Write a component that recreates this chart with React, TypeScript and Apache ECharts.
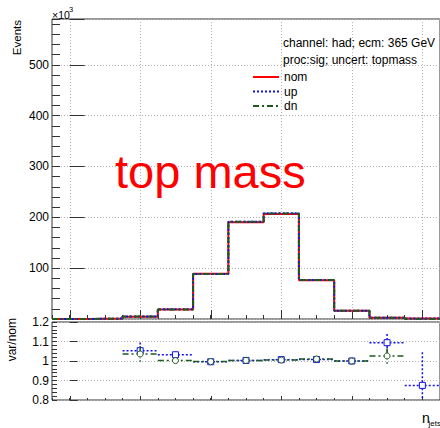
import React, { useEffect, useRef } from "react";
import * as echarts from "echarts";

// ---- data ----
const binCenters = [0, 1, 2, 3, 4, 5, 6, 7, 8, 9, 10]; // n_jets
const nomValues = [0, 0.8, 4.5, 18.5, 89, 190.5, 206.5, 76, 16, 2.5, 1]; // x10^3 events
const upValues = [0, 0.8, 4.7, 19.1, 88.6, 191.1, 208, 76.6, 16, 2.7, 0.9];
const dnValues = [0, 0.8, 4.7, 18.5, 88.7, 191.1, 207.5, 76.8, 16, 2.6, 0];
const upRatio = [null, null, 1.053, 1.032, 0.996, 1.003, 1.007, 1.008, 1.0, 1.094, 0.875];
const upRatioErr = [null, null, 0.042, 0.015, 0.006, 0.004, 0.004, 0.006, 0.012, 0.045, 0.17];
const dnRatio = [null, null, 1.036, 1.002, 0.997, 1.003, 1.005, 1.01, 1.0, 1.026, null];
const dnRatioErr = [null, null, 0.04, 0.012, 0.006, 0.004, 0.004, 0.006, 0.012, 0.04, null];
const seriesNames = ["nom", "up", "dn"];
const headerLines = ["channel: had; ecm: 365 GeV", "proc:sig; uncert: topmass"];
const bigLabel = "top mass";
const yTitle = "Events";
const ratioTitle = "var/nom";
const xTitleMain = "n";
const xTitleSub = "jets";
const eventsMax = 590;
const ratioMin = 0.8;
const ratioMax = 1.2;

const FONT = '"Liberation Sans", Arial, Helvetica, sans-serif';
const AX = "#333333";
const GRIDC = "#b4b4b4";
const RED = "#ff0000";
const BLUE = "#1010f0";
const GREEN = "#1e5a1e";

const W = 440;
const H = 428;
const LEFT = 52;
const PLOT_W = 392;
const UNIT = PLOT_W / 11;

function histData(vals: number[]) {
  const d: number[][] = vals.map((v, i) => [binCenters[i] - 0.5, v]);
  d.push([binCenters[binCenters.length - 1] + 0.5, vals[vals.length - 1]]);
  return d;
}

function ratioData(r: (number | null)[], e: (number | null)[]) {
  const d: number[][] = [];
  r.forEach((v, i) => {
    if (v !== null && e[i] !== null) d.push([binCenters[i], v, e[i] as number]);
  });
  return d;
}

function makeRender(color: string, dash: number[], marker: "rect" | "circle") {
  return (params: any, api: any) => {
    const x = api.value(0);
    const y = api.value(1);
    const e = api.value(2);
    const cs = params.coordSys;
    const clampY = (v: number) => Math.min(Math.max(v, cs.y), cs.y + cs.height);
    const c = api.coord([x, y]);
    const l = api.coord([x - 0.5, y]);
    const r = api.coord([x + 0.5, y]);
    const t = api.coord([x, y + e]);
    const b = api.coord([x, y - e]);
    const inside = c[1] >= cs.y && c[1] <= cs.y + cs.height;
    const children: any[] = [];
    const ls = { stroke: color, lineWidth: 1.5, lineDash: dash, fill: null };
    if (inside) {
      children.push({ type: "line", shape: { x1: l[0], y1: c[1], x2: r[0], y2: c[1] }, style: ls });
    }
    const ty = clampY(t[1]);
    const by = clampY(b[1]);
    if (by - ty > 0.5) {
      children.push({ type: "line", shape: { x1: c[0], y1: ty, x2: c[0], y2: by }, style: ls });
    }
    if (inside) {
      if (marker === "rect") {
        children.push({
          type: "rect",
          shape: { x: c[0] - 3, y: c[1] - 3, width: 6, height: 6 },
          style: { fill: "#ffffff", stroke: color, lineWidth: 1 },
        });
      } else {
        children.push({
          type: "circle",
          shape: { cx: c[0], cy: c[1], r: 3 },
          style: { fill: "#ffffff", stroke: color, lineWidth: 1 },
        });
      }
    }
    return { type: "group", children };
  };
}

export default function App() {
  const ref = useRef<HTMLDivElement>(null);
  useEffect(() => {
    if (!ref.current) return;
    const chart = echarts.init(ref.current, null, { renderer: "svg" });
    const hidden = { show: false };
    const option: any = {
      animation: false,
      backgroundColor: "#ffffff",
      textStyle: { fontFamily: FONT },
      title: {
        text: headerLines.join("\n"),
        left: 283,
        top: 35,
        padding: 0,
        textStyle: { fontSize: 12, fontWeight: "normal", color: "#000", lineHeight: 16.5, fontFamily: FONT },
      },
      legend: {
        data: seriesNames,
        orient: "vertical",
        left: 252,
        top: 71,
        padding: 0,
        itemWidth: 26,
        itemHeight: 14,
        itemGap: 2.5,
        itemStyle: { opacity: 0 },
        textStyle: { fontSize: 12, color: "#000", fontFamily: FONT },
      },
      grid: [
        { left: LEFT, top: 19, width: PLOT_W, height: 300, show: true, borderColor: AX, borderWidth: 1, backgroundColor: "transparent" },
        { left: LEFT, top: 322, width: PLOT_W, height: 78, show: true, borderColor: AX, borderWidth: 1, backgroundColor: "transparent" },
        { left: LEFT + UNIT / 2, top: 19, width: PLOT_W - UNIT / 2, height: 300 },
        { left: LEFT + UNIT / 2, top: 322, width: PLOT_W - UNIT / 2, height: 78 },
      ],
      xAxis: [
        {
          gridIndex: 0, type: "value", min: -0.5, max: 10.5, interval: 0.5,
          axisLine: hidden, axisLabel: hidden, splitLine: hidden,
          axisTick: { show: true, inside: true, length: 4, lineStyle: { color: AX } },
        },
        {
          gridIndex: 1, type: "value", min: -0.5, max: 10.5, interval: 0.5,
          axisLine: hidden, axisLabel: hidden, splitLine: hidden,
          axisTick: { show: true, inside: true, length: 2, lineStyle: { color: AX } },
        },
        {
          gridIndex: 2, type: "value", min: 0, max: 10.5, interval: 2,
          axisLine: hidden, axisLabel: hidden,
          splitLine: { show: true, lineStyle: { color: GRIDC, type: [1, 2], width: 1 } },
          axisTick: { show: true, inside: true, length: 9, lineStyle: { color: AX } },
        },
        {
          gridIndex: 3, type: "value", min: 0, max: 10.5, interval: 2,
          axisLine: hidden, axisLabel: hidden, splitLine: hidden,
          axisTick: { show: true, inside: true, length: 4, lineStyle: { color: AX } },
        },
      ],
      yAxis: [
        {
          gridIndex: 0, type: "value", min: 0, max: eventsMax, interval: 100,
          axisLine: hidden,
          axisTick: { show: true, inside: true, length: 15, lineStyle: { color: AX } },
          axisLabel: {
            show: true, fontSize: 12, color: "#000", margin: 3, fontFamily: FONT,
            formatter: (v: number) => (v > 0 && v <= 500 && Math.abs(v % 100) < 1e-6 ? String(v) : ""),
          },
          splitLine: { show: true, lineStyle: { color: GRIDC, type: [1, 2], width: 1 } },
        },
        {
          gridIndex: 1, type: "value", min: ratioMin, max: ratioMax, interval: 0.1,
          axisLine: hidden,
          axisTick: { show: true, inside: true, length: 8, lineStyle: { color: AX } },
          axisLabel: { show: true, fontSize: 12, color: "#000", margin: 3, fontFamily: FONT },
          splitLine: { show: true, lineStyle: { color: GRIDC, type: [1, 2], width: 1 } },
        },
        { gridIndex: 2, type: "value", min: 0, max: 1, show: false },
        { gridIndex: 3, type: "value", min: 0, max: 1, show: false },
        {
          gridIndex: 0, type: "value", min: 0, max: eventsMax, interval: 20, position: "left", offset: 0,
          axisLine: hidden, axisLabel: hidden, splitLine: hidden,
          axisTick: { show: true, inside: true, length: 8, lineStyle: { color: AX } },
        },
        {
          gridIndex: 1, type: "value", min: ratioMin, max: ratioMax, interval: 0.02, position: "left", offset: 0,
          axisLine: hidden, axisLabel: hidden, splitLine: hidden,
          axisTick: { show: true, inside: true, length: 5, lineStyle: { color: AX } },
        },
      ],
      series: [
        {
          name: "nom", type: "line", xAxisIndex: 0, yAxisIndex: 0, step: "end", symbol: "none",
          data: histData(nomValues), lineStyle: { color: RED, width: 2, type: "solid" }, itemStyle: { color: RED }, z: 3,
        },
        {
          name: "up", type: "line", xAxisIndex: 0, yAxisIndex: 0, step: "end", symbol: "none",
          data: histData(upValues), lineStyle: { color: BLUE, width: 2, type: [2, 2] }, itemStyle: { color: BLUE }, z: 4,
        },
        {
          name: "dn", type: "line", xAxisIndex: 0, yAxisIndex: 0, step: "end", symbol: "none",
          data: histData(dnValues), lineStyle: { color: GREEN, width: 2, type: [6, 3, 2, 3] }, itemStyle: { color: GREEN }, z: 5,
        },
        {
          name: "up/nom", type: "custom", xAxisIndex: 1, yAxisIndex: 1,
          data: ratioData(upRatio, upRatioErr), encode: { x: 0, y: 1 },
          renderItem: makeRender(BLUE, [2, 2], "rect"), z: 4,
        },
        {
          name: "dn/nom", type: "custom", xAxisIndex: 1, yAxisIndex: 1,
          data: ratioData(dnRatio, dnRatioErr), encode: { x: 0, y: 1 },
          renderItem: makeRender(GREEN, [6, 3, 2, 3], "circle"), z: 5,
        },
      ],
      graphic: [
        { type: "text", x: 115, y: 171, z: 10, style: { text: bigLabel, fontSize: 47, fontFamily: FONT, fill: RED, align: "left", verticalAlign: "middle" } },
        { type: "text", x: 17, y: 20, rotation: Math.PI / 2, style: { text: yTitle, fontSize: 11.5, fontFamily: FONT, fill: "#000", align: "right", verticalAlign: "middle" } },
        { type: "text", x: 12, y: 318, rotation: Math.PI / 2, style: { text: ratioTitle, fontSize: 12, fontFamily: FONT, fill: "#000", align: "right", verticalAlign: "middle" } },
        { type: "text", x: 52, y: 14.5, style: { text: "\u00d710", fontSize: 10.5, fontFamily: FONT, fill: "#000", align: "left", verticalAlign: "middle" } },
        { type: "text", x: 69, y: 9.5, style: { text: "3", fontSize: 7.5, fontFamily: FONT, fill: "#000", align: "left", verticalAlign: "middle" } },
        { type: "text", x: 422, y: 418, style: { text: xTitleMain, fontSize: 14, fontFamily: FONT, fill: "#000", align: "left", verticalAlign: "middle" } },
        { type: "text", x: 428.5, y: 423.5, style: { text: xTitleSub, fontSize: 8, fontFamily: FONT, fill: "#000", align: "left", verticalAlign: "middle" } },
      ],
    };
    chart.setOption(option);
    return () => chart.dispose();
  }, []);
  return (
    <div
      ref={ref}
      style={{ position: "absolute", left: 0, top: 0, width: W, height: H, background: "#fff" }}
    />
  );
}
